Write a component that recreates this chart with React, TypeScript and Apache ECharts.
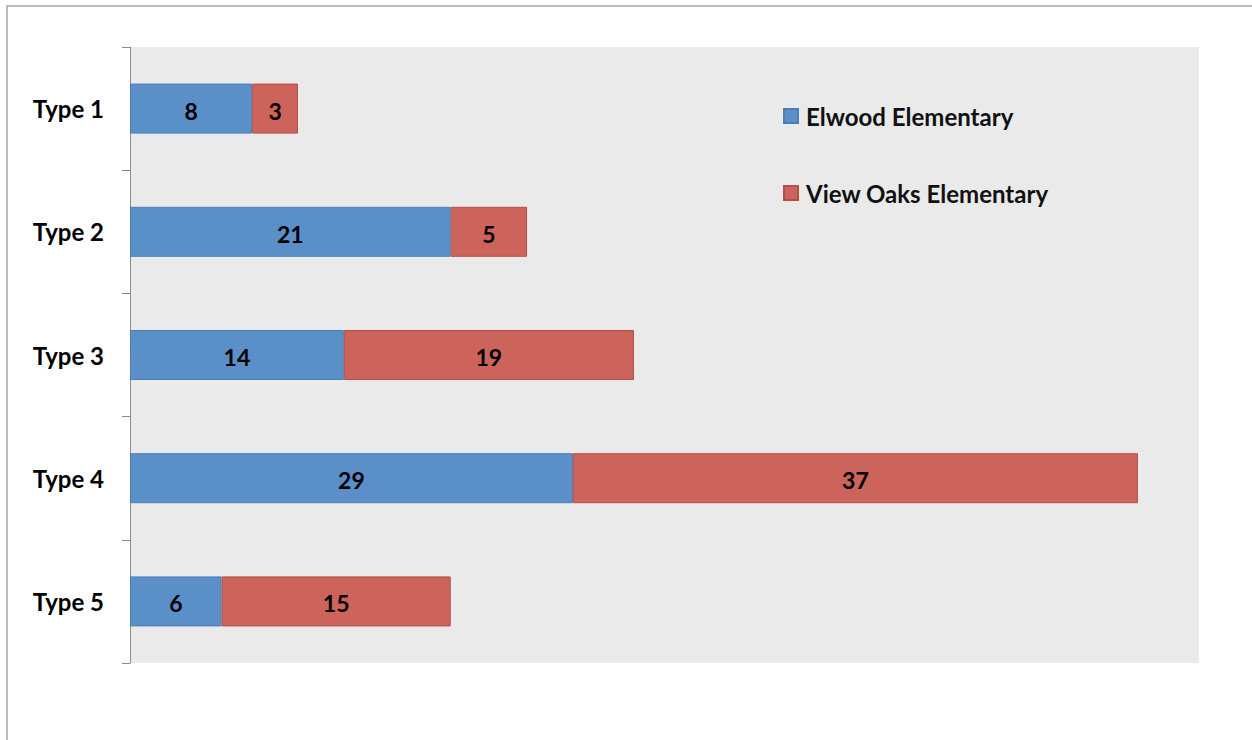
import React, { useEffect, useRef } from "react";
import * as echarts from "echarts";

const categories = ["Type 1", "Type 2", "Type 3", "Type 4", "Type 5"];
const elwood = [8, 21, 14, 29, 6];
const viewOaks = [3, 5, 19, 37, 15];
const seriesNames = ["Elwood Elementary", "View Oaks Elementary"];

const FONT = "Lato, 'Open Sans', sans-serif";

export default function App() {
  const ref = useRef<HTMLDivElement>(null);
  useEffect(() => {
    if (!ref.current) return;
    const chart = echarts.init(ref.current, null, { renderer: "svg" });
    const labelStyle = {
      show: true,
      position: "inside" as const,
      color: "#000",
      fontWeight: "bold" as const,
      fontSize: 23,
      fontFamily: FONT,
      offset: [0, 2],
    };
    chart.setOption({
      animation: false,
      backgroundColor: "#fff",
      textStyle: { fontFamily: FONT },
      graphic: [
        {
          type: "rect",
          shape: { x: 7, y: 6, width: 1300, height: 800 },
          style: { fill: "none", stroke: "#A6A6A6", lineWidth: 1.5 },
          silent: true,
          z: -10,
        },
      ],
      grid: {
        left: 130,
        top: 47,
        width: 1069,
        height: 616,
        show: true,
        backgroundColor: "#EAEAEA",
        borderWidth: 0,
      },
      legend: {
        orient: "vertical",
        left: 778,
        top: 99,
        icon: "rect",
        itemWidth: 14,
        itemHeight: 14,
        itemGap: 53,
        data: seriesNames,
        textStyle: {
          fontSize: 24,
          lineHeight: 24,
          fontWeight: "bold",
          color: "#111",
          fontFamily: FONT,
          padding: [0, 0, 0, 3],
        },
      },
      xAxis: {
        type: "value",
        min: 0,
        max: 70,
        show: false,
        splitLine: { show: false },
      },
      yAxis: {
        type: "category",
        data: categories,
        inverse: true,
        axisLine: { show: true, lineStyle: { color: "#8C8C8C", width: 1 } },
        axisTick: { show: true, length: 8, lineStyle: { color: "#8C8C8C" } },
        axisLabel: {
          margin: 26,
          color: "#000",
          fontWeight: "bold",
          fontSize: 24,
          fontFamily: FONT,
          padding: [8, 0, 0, 0],
        },
      },
      series: [
        {
          name: seriesNames[0],
          type: "bar",
          stack: "total",
          data: elwood,
          barWidth: 50,
          itemStyle: { color: "#5B8FC7", borderColor: "#4A7EBB", borderWidth: 1 },
          label: labelStyle,
        },
        {
          name: seriesNames[1],
          type: "bar",
          stack: "total",
          data: viewOaks,
          barWidth: 50,
          itemStyle: { color: "#CC645B", borderColor: "#B54E48", borderWidth: 1 },
          label: labelStyle,
        },
      ],
    });
    return () => chart.dispose();
  }, []);
  return (
    <div
      ref={ref}
      style={{ position: "absolute", left: 0, top: 0, width: 1252, height: 740 }}
    />
  );
}
